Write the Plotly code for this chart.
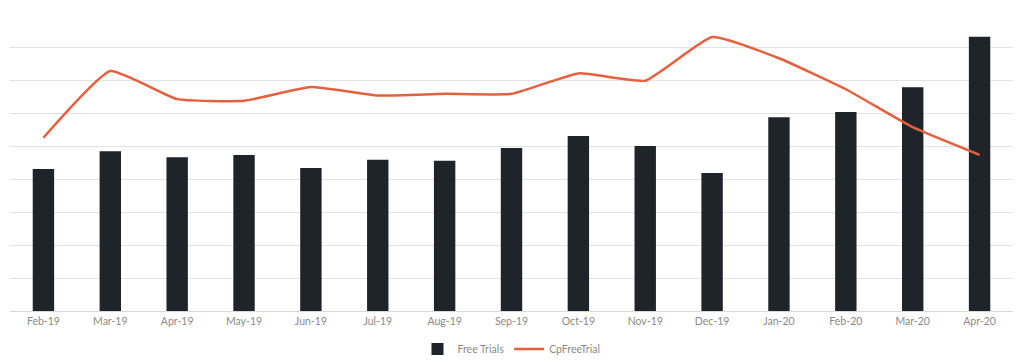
import plotly.graph_objects as go

months = ["Feb-19", "Mar-19", "Apr-19", "May-19", "Jun-19", "Jul-19", "Aug-19",
          "Sep-19", "Oct-19", "Nov-19", "Dec-19", "Jan-20", "Feb-20", "Mar-20", "Apr-20"]
free_trials = [4.30, 4.84, 4.66, 4.73, 4.33, 4.58, 4.55, 4.94, 5.30, 5.00, 4.18, 5.87, 6.03, 6.78, 8.31]
cp_free_trial = [5.25, 7.27, 6.42, 6.37, 6.79, 6.53, 6.58, 6.58, 7.20, 6.98, 8.30, 7.66, 6.72, 5.57, 4.73]

fig = go.Figure()
fig.add_trace(go.Bar(x=months, y=free_trials, name="Free Trials",
                     marker=dict(color="#1e242a", line=dict(width=0))))
fig.add_trace(go.Scatter(x=months, y=cp_free_trial, name="CpFreeTrial", mode="lines",
                         line=dict(color="#e5603e", width=2.5, shape="spline", smoothing=0.4)))

# page body has an 8px default margin, so the figure is sized to fill the rest of the window
fig.update_layout(
    width=1016, height=352,
    margin=dict(l=1.5, r=10.5, t=6, b=49, autoexpand=False),
    paper_bgcolor="white", plot_bgcolor="white",
    bargap=0.68,
    font=dict(family="Lato, sans-serif", color="#8a8a8a", size=10.5),
    showlegend=True,
    legend=dict(orientation="h", x=0.5, xanchor="center", y=-0.128, yanchor="middle",
                font=dict(size=10.5, color="#8a8a8a"), traceorder="normal"),
    xaxis=dict(showgrid=False, showline=True, linecolor="#d9d9d9", linewidth=1,
               ticks="", automargin=False, tickfont=dict(size=10.5, color="#8a8a8a")),
    yaxis=dict(range=[0, 9], dtick=1, showgrid=True, gridcolor="#e3e3e3", gridwidth=1,
               showticklabels=False, zeroline=False, showline=False, automargin=False),
)

fig.write_html("out.html")
